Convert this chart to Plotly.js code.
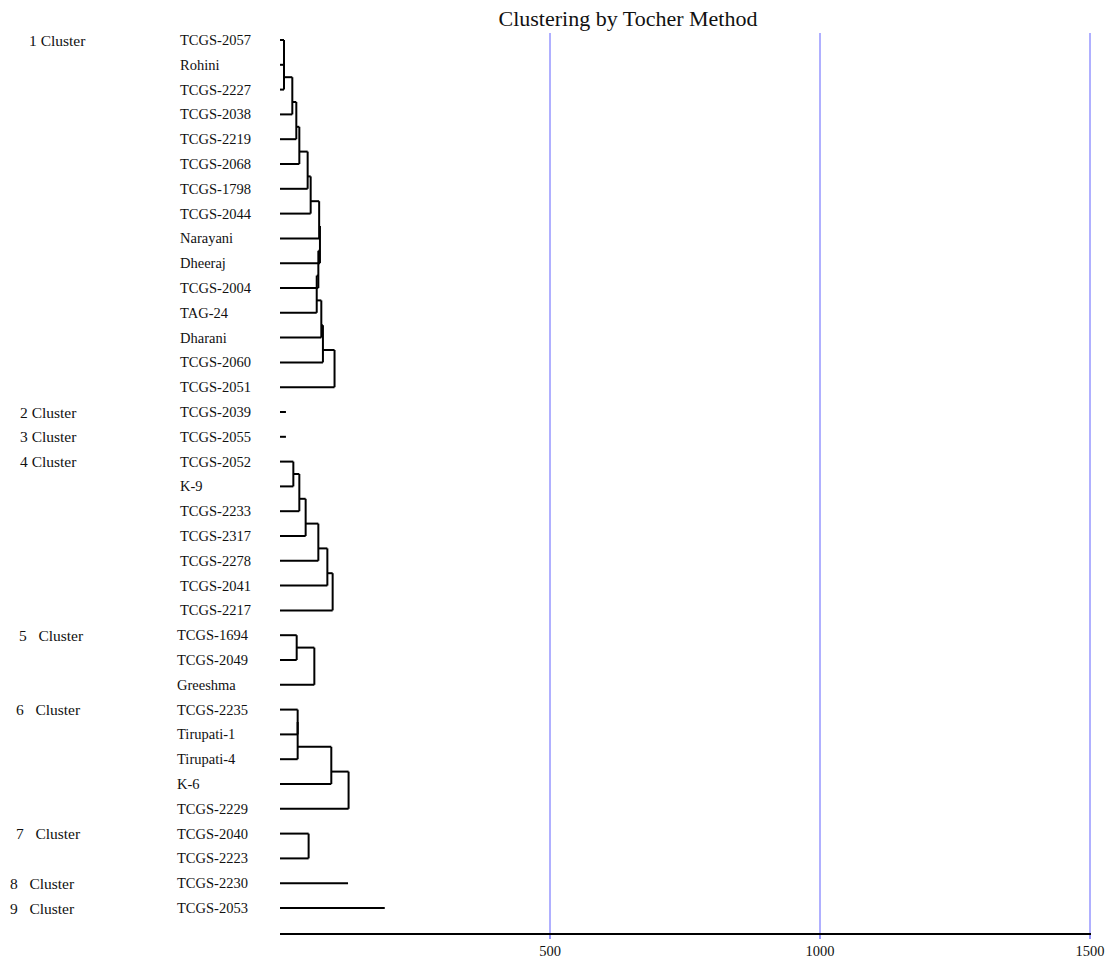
<!DOCTYPE html>
<html>
<head>
<meta charset="utf-8">
<script src="https://cdn.plot.ly/plotly-3.0.1.min.js"></script>
<style>html,body{margin:0;padding:0;background:#fff;}#chart{width:1117px;height:961px;}</style>
</head>
<body>
<div id="chart"></div>
<script>
// ---- data ----
const clusterNames = ["1 Cluster", "2 Cluster", "3 Cluster", "4 Cluster", "5\u00a0\u00a0\u00a0Cluster",
  "6\u00a0\u00a0\u00a0Cluster", "7\u00a0\u00a0\u00a0Cluster", "8\u00a0\u00a0\u00a0Cluster", "9\u00a0\u00a0\u00a0Cluster"];
const clusterSizes = [15, 1, 1, 7, 3, 5, 2, 1, 1];
const genotypes = [
  "TCGS-2057", "Rohini", "TCGS-2227", "TCGS-2038", "TCGS-2219", "TCGS-2068", "TCGS-1798", "TCGS-2044",
  "Narayani", "Dheeraj", "TCGS-2004", "TAG-24", "Dharani", "TCGS-2060", "TCGS-2051",
  "TCGS-2039",
  "TCGS-2055",
  "TCGS-2052", "K-9", "TCGS-2233", "TCGS-2317", "TCGS-2278", "TCGS-2041", "TCGS-2217",
  "TCGS-1694", "TCGS-2049", "Greeshma",
  "TCGS-2235", "Tirupati-1", "Tirupati-4", "K-6", "TCGS-2229",
  "TCGS-2040", "TCGS-2223",
  "TCGS-2230",
  "TCGS-2053"
];
// distance level at which each genotype joins its cluster
const joinDistance = [
  7.4, 7.4, 7.4, 22.8, 30.2, 35.8, 51.2, 56.8, 72.5, 74, 71, 68, 76.5, 79.5, 101,
  11,
  11,
  24.7, 24.7, 35.8, 47.5, 71, 87.7, 97.5,
  30.9, 30.9, 63.6,
  32.7, 32.7, 32.7, 95, 127,
  53, 53,
  126,
  194
];
const xTicks = [500, 1000, 1500];

// ---- presentation ----
const W = 1117, H = 961;
const M = {l: 280, r: 26, t: 33, b: 28};
const pxPerUnit = 0.54;
const rowTop = 40, rowStep = 24.8;
const clusterLabelPx = [27, 18, 18, 18, 17, 14, 14, 8, 8];
const serif = "Liberation Serif, Times New Roman, serif";
const txt = "#111";
const gridCol = "rgb(150,150,255)";

// build dendrogram segments from data
const xs = [], ys = [];
function seg(x0, y0, x1, y1) { xs.push(x0, x1, null); ys.push(y0, y1, null); }
let start = 0;
clusterSizes.forEach((n) => {
  for (let k = 0; k < n; k++) {
    const r = start + k, v = joinDistance[r];
    seg(0, r, v, r);
    if (k >= 1) {
      const y0 = (k === 1) ? start : start + k - 1.5;
      seg(v, y0, v, r);
      if (k >= 2) seg(joinDistance[r - 1], y0, v, y0);
    }
  }
  start += n;
});

const plotW = W - M.l - M.r;
const xMax = plotW / pxPerUnit;
const annotations = [];
genotypes.forEach((g, i) => {
  const px = i < 24 ? 178 : 175;
  annotations.push({text: g, xref: "paper", x: (px - M.l) / plotW, xanchor: "left",
    yref: "y", y: i, yanchor: "middle", showarrow: false,
    font: {family: serif, size: 14.5, color: txt}});
});
start = 0;
clusterNames.forEach((c, i) => {
  annotations.push({text: c, xref: "paper", x: (clusterLabelPx[i] - M.l) / plotW, xanchor: "left",
    yref: "y", y: start, yanchor: "middle", showarrow: false,
    font: {family: serif, size: 15.5, color: txt}});
  start += clusterSizes[i];
});

// grid lines drawn as shapes at tick values (so the one at the right edge is kept)
const shapes = xTicks.map(t => ({type: "line", xref: "x", yref: "paper", x0: t, x1: t, y0: 0, y1: 1,
  line: {color: gridCol, width: 1.5}, layer: "below"}));

const yTopRow = (M.t - rowTop) / rowStep;
const yBotRow = (H - M.b - rowTop) / rowStep;

const trace = {x: xs, y: ys, type: "scatter", mode: "lines",
  line: {color: "#000", width: 2}, hoverinfo: "skip", showlegend: false};

const layout = {
  width: W, height: H,
  margin: M,
  paper_bgcolor: "#fff", plot_bgcolor: "#fff",
  title: {text: "Clustering by Tocher Method", font: {family: serif, size: 22, color: txt},
    xref: "container", x: 628 / W, xanchor: "center", yref: "container", y: 1 - 18 / H, yanchor: "middle"},
  xaxis: {range: [0, xMax], tickvals: xTicks, ticktext: xTicks.map(String),
    showgrid: false, zeroline: false,
    showline: true, linecolor: "#000", linewidth: 2,
    ticks: "outside", ticklen: 4, tickcolor: gridCol, tickwidth: 1.5,
    tickfont: {family: serif, size: 14.5, color: txt}, fixedrange: true},
  yaxis: {range: [yBotRow, yTopRow], showgrid: false, zeroline: false, showline: false,
    showticklabels: false, ticks: "", fixedrange: true},
  shapes: shapes,
  annotations: annotations
};

Plotly.newPlot("chart", [trace], layout, {displayModeBar: false, staticPlot: true});
</script>
</body>
</html>
